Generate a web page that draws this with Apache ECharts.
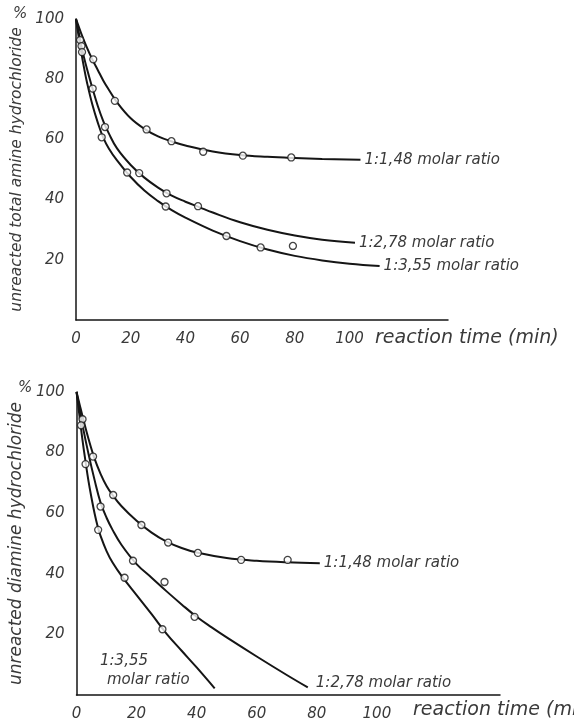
<!DOCTYPE html>
<html>
<head>
<meta charset="utf-8">
<script src="https://cdn.jsdelivr.net/npm/echarts@6/dist/echarts.min.js"></script>
<style>
  html, body { margin: 0; padding: 0; background: #fff; }
  #chart { width: 574px; height: 724px; }
</style>
</head>
<body>
<div id="chart"></div>
<script>
// Axis ticks (min / %): labels shown only for these values
const xTickValues = [0, 20, 40, 60, 80, 100];
const yTickValues = [20, 40, 60, 80, 100];

// Upper panel: unreacted total amine hydrochloride (%) vs reaction time (min)
const totalCurve148 = [[0,100],[1,97.5],[2,95],[4,90.5],[6,86.5],[8,83],[10,79.5],[12,76.5],[15,72.3],[20,67],[25,63.5],[30,61],[35,59.3],[40,58],[50,56],[60,54.8],[70,54.2],[80,53.8],[90,53.5],[104,53.2]];
const totalPoints148 = [[1.5,93],[6.3,86.6],[14.2,72.8],[25.8,63.3],[34.9,59.4],[46.5,55.9],[61,54.6],[78.7,54]];
const totalCurve278 = [[0,100],[1,95.5],[2,91],[3,87],[4,83.5],[6,77],[8,71],[10,66],[12,62],[15,57],[20,51.5],[25,47.3],[30,44],[35,41.3],[40,39.3],[45,37.5],[50,35.7],[60,32.5],[70,30],[80,28.1],[90,26.7],[102,25.7]];
const totalPoints278 = [[2,91],[6.1,76.9],[10.6,64.1],[23.1,48.8],[33.1,42.1],[44.6,37.8],[79.3,24.6]];
const totalCurve355 = [[0,100],[1,94],[2,88.5],[3,83.5],[4,79],[6,71.5],[8,65.5],[10,60.5],[12,57],[15,53],[20,47.5],[25,43],[30,39.5],[35,36.5],[40,34],[50,29.7],[60,26.2],[70,23.4],[80,21.3],[90,19.8],[100,18.7],[111,17.9]];
const totalPoints355 = [[2.2,89],[9.4,60.7],[18.7,49],[32.8,37.7],[55,27.9],[67.5,24.1]];

// Lower panel: unreacted diamine hydrochloride (%) vs reaction time (min)
const diamineCurve148 = [[0,100],[1,96],[2,92],[4,84.5],[6,78],[8,73],[10,69],[12,66],[15,62.3],[20,57.5],[25,53.6],[30,50.6],[35,48.5],[40,47],[50,45.2],[60,44.3],[70,43.8],[81,43.5]];
const diaminePoints148 = [[2,91],[5.5,78.7],[12.2,66],[21.6,56.1],[30.5,50.3],[40.4,46.9],[54.8,44.6],[70.3,44.6]];
const diamineCurve278 = [[0,100],[1,94.5],[2,89],[4,79.5],[6,71],[8,63.5],[10,58.5],[12,54.5],[15,49.5],[20,43.2],[25,38.7],[30,34.2],[35,29.9],[40,25.8],[45,22.3],[50,19],[60,12.7],[70,6.6],[77,2.5]];
const diaminePoints278 = [[1.5,89],[8,62.2],[18.8,44.3],[29.3,37.3],[39.3,25.8]];
const diamineCurve355 = [[0,100],[1,92],[2,84],[3,77],[4,70.5],[5,65],[6,60],[7,55.8],[8,52.5],[10,47.5],[12,43.7],[15,39.3],[20,33],[25,26.7],[30,20.2],[35,14.6],[40,9.1],[46,2.2]];
const diaminePoints355 = [[3,76.2],[7.2,54.5],[16,38.7],[28.6,21.7]];

const ratioNames = ['1:1,48 molar ratio', '1:2,78 molar ratio', '1:3,55 molar ratio'];

const INK = '#151515';
const TEXT = '#3a3a3a';
const FONT = 'DejaVu Sans';

const tickLabel = {
  color: TEXT, fontStyle: 'italic', fontFamily: FONT, fontSize: 15, fontWeight: 300
};

function xAxisFor(gridIndex, max) {
  return {
    type: 'value', gridIndex, min: 0, max, interval: 20,
    axisLine: { show: true, lineStyle: { color: INK, width: 1.5 } },
    axisTick: { show: false },
    splitLine: { show: false },
    axisLabel: Object.assign({}, tickLabel, {
      margin: 12, showMaxLabel: false,
      formatter: v => (xTickValues.indexOf(v) >= 0 ? String(v) : '')
    })
  };
}

function yAxisFor(gridIndex, name, nameSize, gap) {
  return {
    type: 'value', gridIndex, min: 0, max: 100, interval: 20,
    axisLine: { show: true, lineStyle: { color: INK, width: 1.5 } },
    axisTick: { show: false },
    splitLine: { show: false },
    axisLabel: Object.assign({}, tickLabel, {
      margin: 12,
      formatter: v => (yTickValues.indexOf(v) >= 0 ? String(v) : '')
    }),
    name, nameLocation: 'middle', nameRotate: 90, nameGap: gap,
    nameTextStyle: { color: TEXT, fontStyle: 'italic', fontFamily: FONT, fontSize: nameSize, fontWeight: 300 }
  };
}

function curve(data, idx, label, labelOpts) {
  const s = {
    type: 'line', xAxisIndex: idx, yAxisIndex: idx, data,
    smooth: 0.4, showSymbol: false, symbol: 'none',
    lineStyle: { color: INK, width: 2 },
    silent: true, z: 2
  };
  if (label) {
    s.endLabel = Object.assign({
      show: true, formatter: label, distance: 4,
      color: TEXT, fontStyle: 'italic', fontFamily: FONT, fontSize: 15, fontWeight: 300
    }, labelOpts || {});
  }
  return s;
}

function points(data, idx) {
  return {
    type: 'scatter', xAxisIndex: idx, yAxisIndex: idx, data,
    symbol: 'circle', symbolSize: 7,
    itemStyle: { color: '#fff', borderColor: INK, borderWidth: 1.3 },
    silent: true, z: 3
  };
}

const chart = echarts.init(document.getElementById('chart'), null, { renderer: 'canvas' });

chart.setOption({
  backgroundColor: '#fff',
  animation: false,
  grid: [
    { left: 76, top: 19, width: 372, height: 301 },
    { left: 75, top: 392, width: 425, height: 303 }
  ],
  xAxis: [xAxisFor(0, 136), xAxisFor(1, 141)],
  yAxis: [
    yAxisFor(0, 'unreacted total amine hydrochloride', 15.5, 40),
    yAxisFor(1, 'unreacted diamine hydrochloride', 17, 37)
  ],
  graphic: [
    { type: 'text', left: 13, top: 7, style: { text: '%', fill: TEXT, font: 'italic 300 15px "DejaVu Sans"' } },
    { type: 'text', left: 18, top: 381, style: { text: '%', fill: TEXT, font: 'italic 300 15px "DejaVu Sans"' } },
    { type: 'text', left: 375, top: 329, style: { text: 'reaction time (min)', fill: TEXT, font: 'italic 300 19px "DejaVu Sans"' } },
    { type: 'text', left: 413, top: 701, style: { text: 'reaction time (min)', fill: TEXT, font: 'italic 300 19px "DejaVu Sans"' } },
    { type: 'text', left: 100, top: 654, style: { text: '1:3,55', fill: TEXT, font: 'italic 300 15px "DejaVu Sans"' } },
    { type: 'text', left: 107, top: 673, style: { text: 'molar ratio', fill: TEXT, font: 'italic 300 15px "DejaVu Sans"' } }
  ],
  series: [
    curve(totalCurve148, 0, ratioNames[0]),
    curve(totalCurve278, 0, ratioNames[1]),
    curve(totalCurve355, 0, ratioNames[2]),
    points(totalPoints148, 0),
    points(totalPoints278, 0),
    points(totalPoints355, 0),
    curve(diamineCurve148, 1, ratioNames[0]),
    curve(diamineCurve278, 1, ratioNames[1], { offset: [4, -4] }),
    curve(diamineCurve355, 1, null),
    points(diaminePoints148, 1),
    points(diaminePoints278, 1),
    points(diaminePoints355, 1)
  ]
});
</script>
</body>
</html>
